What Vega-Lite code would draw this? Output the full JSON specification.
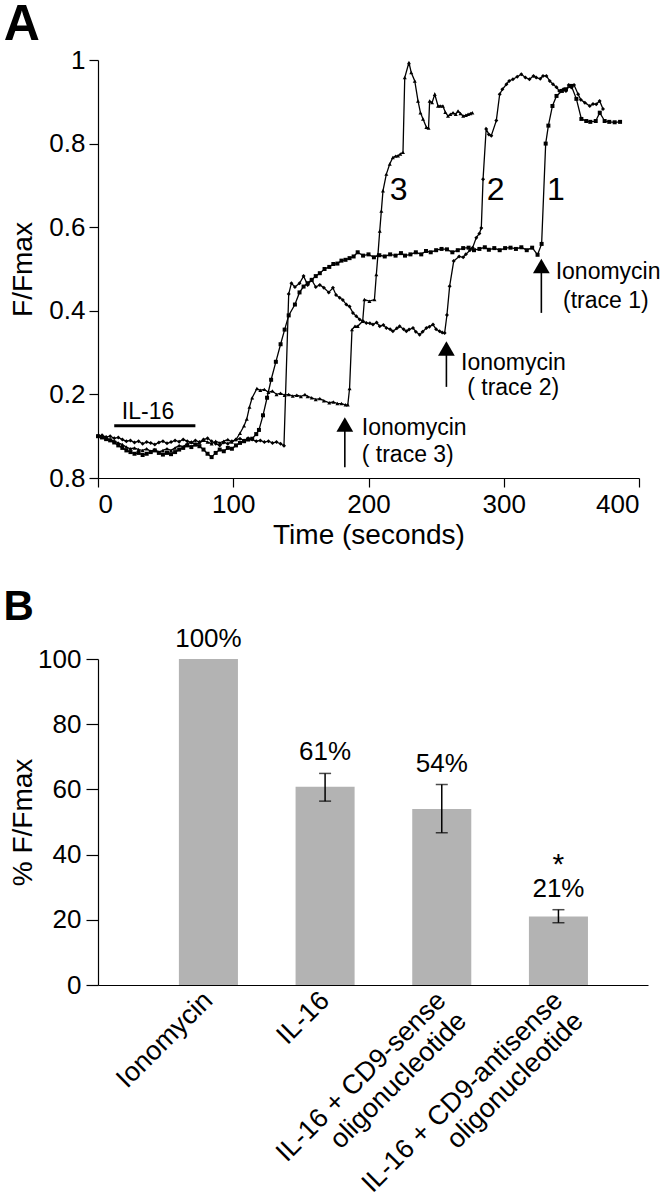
{
 "$schema": "https://vega.github.io/schema/vega-lite/v6.json",
 "padding": {"left": 3, "top": 0, "right": 5, "bottom": 0},
 "background": "white",
 "spacing": 37,
 "config": {
  "font": "Liberation Sans",
  "view": {"stroke": null},
  "axis": {"grid": false, "domainColor": "black", "tickColor": "black", "labelColor": "black", "titleColor": "black", "labelFont": "Liberation Sans", "titleFont": "Liberation Sans", "titleFontWeight": "normal", "labelFontSize": 26, "titleFontSize": 28, "tickSize": 9, "domainWidth": 1.2, "tickWidth": 1.2},
  "title": {"font": "Liberation Sans", "fontWeight": "bold", "color": "black", "anchor": "start", "frame": "bounds"}
 },
 "datasets": {
  "traces": [
   {"s":"1","t":0,"v":0.100},{"s":"1","t":3,"v":0.097},{"s":"1","t":6,"v":0.093},{"s":"1","t":9,"v":0.090},{"s":"1","t":12,"v":0.085},{"s":"1","t":15,"v":0.078},{"s":"1","t":18,"v":0.072},{"s":"1","t":21,"v":0.066},{"s":"1","t":24,"v":0.062},{"s":"1","t":27,"v":0.058},{"s":"1","t":30,"v":0.060},{"s":"1","t":33,"v":0.055},{"s":"1","t":36,"v":0.058},{"s":"1","t":39,"v":0.062},{"s":"1","t":42,"v":0.066},{"s":"1","t":45,"v":0.060},{"s":"1","t":48,"v":0.056},{"s":"1","t":51,"v":0.060},{"s":"1","t":54,"v":0.057},{"s":"1","t":57,"v":0.062},{"s":"1","t":60,"v":0.068},{"s":"1","t":63,"v":0.072},{"s":"1","t":66,"v":0.078},{"s":"1","t":69,"v":0.074},{"s":"1","t":72,"v":0.080},{"s":"1","t":75,"v":0.076},{"s":"1","t":78,"v":0.068},{"s":"1","t":81,"v":0.058},{"s":"1","t":84,"v":0.050},{"s":"1","t":87,"v":0.060},{"s":"1","t":90,"v":0.068},{"s":"1","t":93,"v":0.064},{"s":"1","t":96,"v":0.072},{"s":"1","t":99,"v":0.070},{"s":"1","t":102,"v":0.078},{"s":"1","t":105,"v":0.084},{"s":"1","t":108,"v":0.088},{"s":"1","t":111,"v":0.092},{"s":"1","t":114,"v":0.094},{"s":"1","t":117,"v":0.105},{"s":"1","t":119,"v":0.115},{"s":"1","t":122,"v":0.150},{"s":"1","t":125,"v":0.192},{"s":"1","t":128,"v":0.235},{"s":"1","t":131.5,"v":0.278},{"s":"1","t":135,"v":0.320},{"s":"1","t":138,"v":0.355},{"s":"1","t":141,"v":0.389},{"s":"1","t":145.6,"v":0.415},{"s":"1","t":149,"v":0.444},{"s":"1","t":152,"v":0.458},{"s":"1","t":155,"v":0.466},{"s":"1","t":158,"v":0.474},{"s":"1","t":161,"v":0.483},{"s":"1","t":164,"v":0.490},{"s":"1","t":167.5,"v":0.500},{"s":"1","t":171,"v":0.505},{"s":"1","t":174,"v":0.512},{"s":"1","t":177,"v":0.513},{"s":"1","t":180,"v":0.520},{"s":"1","t":183,"v":0.522},{"s":"1","t":186,"v":0.526},{"s":"1","t":189,"v":0.530},{"s":"1","t":192,"v":0.540},{"s":"1","t":196,"v":0.532},{"s":"1","t":200,"v":0.535},{"s":"1","t":204,"v":0.528},{"s":"1","t":208,"v":0.533},{"s":"1","t":212,"v":0.530},{"s":"1","t":216,"v":0.535},{"s":"1","t":220,"v":0.532},{"s":"1","t":224,"v":0.538},{"s":"1","t":227,"v":0.532},{"s":"1","t":231,"v":0.535},{"s":"1","t":235,"v":0.540},{"s":"1","t":239,"v":0.535},{"s":"1","t":242.5,"v":0.543},{"s":"1","t":246,"v":0.540},{"s":"1","t":250,"v":0.545},{"s":"1","t":254,"v":0.548},{"s":"1","t":258,"v":0.547},{"s":"1","t":262,"v":0.540},{"s":"1","t":266,"v":0.545},{"s":"1","t":270,"v":0.550},{"s":"1","t":274,"v":0.551},{"s":"1","t":278,"v":0.545},{"s":"1","t":282,"v":0.548},{"s":"1","t":286,"v":0.552},{"s":"1","t":289,"v":0.546},{"s":"1","t":293,"v":0.550},{"s":"1","t":297,"v":0.545},{"s":"1","t":301,"v":0.550},{"s":"1","t":305,"v":0.551},{"s":"1","t":309,"v":0.548},{"s":"1","t":313,"v":0.552},{"s":"1","t":317,"v":0.545},{"s":"1","t":321,"v":0.551},{"s":"1","t":325,"v":0.534},{"s":"1","t":328,"v":0.560},{"s":"1","t":331,"v":0.800},{"s":"1","t":333,"v":0.843},{"s":"1","t":336,"v":0.890},{"s":"1","t":339,"v":0.914},{"s":"1","t":343,"v":0.926},{"s":"1","t":346,"v":0.930},{"s":"1","t":350,"v":0.938},{"s":"1","t":353.7,"v":0.907},{"s":"1","t":357.4,"v":0.859},{"s":"1","t":361,"v":0.854},{"s":"1","t":364,"v":0.852},{"s":"1","t":368,"v":0.854},{"s":"1","t":371,"v":0.874},{"s":"1","t":374.6,"v":0.854},{"s":"1","t":378,"v":0.852},{"s":"1","t":382,"v":0.851},{"s":"1","t":386,"v":0.852},
   {"s":"2","t":0,"v":0.100},{"s":"2","t":3,"v":0.102},{"s":"2","t":6,"v":0.098},{"s":"2","t":9,"v":0.100},{"s":"2","t":12,"v":0.095},{"s":"2","t":15,"v":0.097},{"s":"2","t":18,"v":0.092},{"s":"2","t":21,"v":0.088},{"s":"2","t":24,"v":0.090},{"s":"2","t":27,"v":0.085},{"s":"2","t":30,"v":0.088},{"s":"2","t":33,"v":0.082},{"s":"2","t":36,"v":0.086},{"s":"2","t":39,"v":0.084},{"s":"2","t":42,"v":0.080},{"s":"2","t":45,"v":0.085},{"s":"2","t":48,"v":0.088},{"s":"2","t":51,"v":0.083},{"s":"2","t":54,"v":0.086},{"s":"2","t":57,"v":0.090},{"s":"2","t":60,"v":0.087},{"s":"2","t":63,"v":0.092},{"s":"2","t":66,"v":0.088},{"s":"2","t":69,"v":0.085},{"s":"2","t":72,"v":0.090},{"s":"2","t":75,"v":0.086},{"s":"2","t":78,"v":0.092},{"s":"2","t":81,"v":0.095},{"s":"2","t":84,"v":0.088},{"s":"2","t":87,"v":0.082},{"s":"2","t":90,"v":0.078},{"s":"2","t":93,"v":0.085},{"s":"2","t":96,"v":0.082},{"s":"2","t":99,"v":0.088},{"s":"2","t":102,"v":0.092},{"s":"2","t":105,"v":0.094},{"s":"2","t":108,"v":0.090},{"s":"2","t":111,"v":0.095},{"s":"2","t":114,"v":0.092},{"s":"2","t":117,"v":0.088},{"s":"2","t":120,"v":0.090},{"s":"2","t":123,"v":0.086},{"s":"2","t":126,"v":0.088},{"s":"2","t":129,"v":0.084},{"s":"2","t":132,"v":0.086},{"s":"2","t":135,"v":0.082},{"s":"2","t":137.5,"v":0.077},{"s":"2","t":141,"v":0.440},{"s":"2","t":143,"v":0.466},{"s":"2","t":145.6,"v":0.457},{"s":"2","t":149,"v":0.466},{"s":"2","t":152,"v":0.483},{"s":"2","t":155,"v":0.462},{"s":"2","t":158,"v":0.474},{"s":"2","t":161,"v":0.457},{"s":"2","t":164,"v":0.462},{"s":"2","t":167,"v":0.455},{"s":"2","t":170.6,"v":0.444},{"s":"2","t":173.7,"v":0.455},{"s":"2","t":176,"v":0.438},{"s":"2","t":178.7,"v":0.431},{"s":"2","t":181,"v":0.426},{"s":"2","t":183.6,"v":0.415},{"s":"2","t":186,"v":0.410},{"s":"2","t":188.5,"v":0.395},{"s":"2","t":191,"v":0.387},{"s":"2","t":193.5,"v":0.379},{"s":"2","t":196,"v":0.375},{"s":"2","t":198.4,"v":0.371},{"s":"2","t":201,"v":0.370},{"s":"2","t":203.3,"v":0.367},{"s":"2","t":206,"v":0.372},{"s":"2","t":208.3,"v":0.363},{"s":"2","t":211,"v":0.366},{"s":"2","t":213.2,"v":0.359},{"s":"2","t":216,"v":0.356},{"s":"2","t":218,"v":0.351},{"s":"2","t":221,"v":0.358},{"s":"2","t":223,"v":0.363},{"s":"2","t":226,"v":0.356},{"s":"2","t":228,"v":0.351},{"s":"2","t":230,"v":0.355},{"s":"2","t":232.9,"v":0.359},{"s":"2","t":235,"v":0.350},{"s":"2","t":237.8,"v":0.343},{"s":"2","t":240,"v":0.350},{"s":"2","t":242.8,"v":0.359},{"s":"2","t":245,"v":0.362},{"s":"2","t":247.7,"v":0.367},{"s":"2","t":250,"v":0.356},{"s":"2","t":252.6,"v":0.351},{"s":"2","t":254.5,"v":0.348},{"s":"2","t":256.3,"v":0.347},{"s":"2","t":258,"v":0.390},{"s":"2","t":260,"v":0.459},{"s":"2","t":263,"v":0.519},{"s":"2","t":267,"v":0.530},{"s":"2","t":270,"v":0.528},{"s":"2","t":272,"v":0.535},{"s":"2","t":275,"v":0.545},{"s":"2","t":277,"v":0.551},{"s":"2","t":279.7,"v":0.575},{"s":"2","t":282,"v":0.585},{"s":"2","t":283.4,"v":0.598},{"s":"2","t":284.7,"v":0.715},{"s":"2","t":287,"v":0.835},{"s":"2","t":289,"v":0.822},{"s":"2","t":290.8,"v":0.819},{"s":"2","t":294.5,"v":0.855},{"s":"2","t":297,"v":0.918},{"s":"2","t":299,"v":0.930},{"s":"2","t":302,"v":0.942},{"s":"2","t":304,"v":0.950},{"s":"2","t":306.8,"v":0.954},{"s":"2","t":310,"v":0.960},{"s":"2","t":313,"v":0.966},{"s":"2","t":316,"v":0.958},{"s":"2","t":319,"v":0.954},{"s":"2","t":322,"v":0.962},{"s":"2","t":324,"v":0.958},{"s":"2","t":327,"v":0.955},{"s":"2","t":329,"v":0.962},{"s":"2","t":331.5,"v":0.962},{"s":"2","t":334,"v":0.950},{"s":"2","t":336.4,"v":0.942},{"s":"2","t":339,"v":0.935},{"s":"2","t":341,"v":0.926},{"s":"2","t":344,"v":0.930},{"s":"2","t":346,"v":0.926},{"s":"2","t":348,"v":0.940},{"s":"2","t":350,"v":0.934},{"s":"2","t":352,"v":0.940},{"s":"2","t":355,"v":0.918},{"s":"2","t":357,"v":0.905},{"s":"2","t":360,"v":0.898},{"s":"2","t":363.6,"v":0.890},{"s":"2","t":366,"v":0.895},{"s":"2","t":368.4,"v":0.894},{"s":"2","t":370.9,"v":0.902},{"s":"2","t":373.4,"v":0.883},
   {"s":"3","t":0,"v":0.102},{"s":"3","t":3,"v":0.098},{"s":"3","t":6,"v":0.095},{"s":"3","t":9,"v":0.092},{"s":"3","t":12,"v":0.088},{"s":"3","t":15,"v":0.084},{"s":"3","t":18,"v":0.080},{"s":"3","t":21,"v":0.074},{"s":"3","t":24,"v":0.070},{"s":"3","t":27,"v":0.072},{"s":"3","t":30,"v":0.068},{"s":"3","t":33,"v":0.066},{"s":"3","t":36,"v":0.070},{"s":"3","t":39,"v":0.064},{"s":"3","t":42,"v":0.068},{"s":"3","t":45,"v":0.062},{"s":"3","t":48,"v":0.066},{"s":"3","t":51,"v":0.070},{"s":"3","t":54,"v":0.066},{"s":"3","t":57,"v":0.072},{"s":"3","t":60,"v":0.078},{"s":"3","t":63,"v":0.075},{"s":"3","t":66,"v":0.082},{"s":"3","t":69,"v":0.086},{"s":"3","t":72,"v":0.080},{"s":"3","t":75,"v":0.084},{"s":"3","t":78,"v":0.090},{"s":"3","t":81,"v":0.086},{"s":"3","t":84,"v":0.082},{"s":"3","t":87,"v":0.088},{"s":"3","t":90,"v":0.084},{"s":"3","t":93,"v":0.088},{"s":"3","t":96,"v":0.092},{"s":"3","t":99,"v":0.086},{"s":"3","t":102,"v":0.092},{"s":"3","t":105,"v":0.107},{"s":"3","t":108,"v":0.125},{"s":"3","t":110,"v":0.141},{"s":"3","t":112,"v":0.170},{"s":"3","t":114,"v":0.192},{"s":"3","t":117.5,"v":0.214},{"s":"3","t":120,"v":0.210},{"s":"3","t":123,"v":0.212},{"s":"3","t":126,"v":0.205},{"s":"3","t":129,"v":0.208},{"s":"3","t":132,"v":0.200},{"s":"3","t":135,"v":0.203},{"s":"3","t":138,"v":0.198},{"s":"3","t":141,"v":0.200},{"s":"3","t":144,"v":0.196},{"s":"3","t":147,"v":0.198},{"s":"3","t":150,"v":0.195},{"s":"3","t":153,"v":0.200},{"s":"3","t":155,"v":0.195},{"s":"3","t":158,"v":0.192},{"s":"3","t":161,"v":0.188},{"s":"3","t":164,"v":0.190},{"s":"3","t":167,"v":0.185},{"s":"3","t":171,"v":0.180},{"s":"3","t":174,"v":0.182},{"s":"3","t":177,"v":0.178},{"s":"3","t":180,"v":0.178},{"s":"3","t":183,"v":0.175},{"s":"3","t":184.7,"v":0.175},{"s":"3","t":186,"v":0.214},{"s":"3","t":187.8,"v":0.355},{"s":"3","t":190,"v":0.363},{"s":"3","t":192,"v":0.363},{"s":"3","t":195.7,"v":0.375},{"s":"3","t":197,"v":0.427},{"s":"3","t":200.7,"v":0.423},{"s":"3","t":204.4,"v":0.427},{"s":"3","t":205.8,"v":0.487},{"s":"3","t":207,"v":0.535},{"s":"3","t":208.3,"v":0.591},{"s":"3","t":209.5,"v":0.639},{"s":"3","t":210.7,"v":0.687},{"s":"3","t":213.2,"v":0.727},{"s":"3","t":215.7,"v":0.751},{"s":"3","t":218,"v":0.767},{"s":"3","t":220,"v":0.770},{"s":"3","t":221.8,"v":0.771},{"s":"3","t":223.5,"v":0.775},{"s":"3","t":225.5,"v":0.779},{"s":"3","t":226.8,"v":0.958},{"s":"3","t":229.9,"v":0.994},{"s":"3","t":231.6,"v":0.970},{"s":"3","t":234.2,"v":0.950},{"s":"3","t":236.6,"v":0.902},{"s":"3","t":238.4,"v":0.874},{"s":"3","t":240.3,"v":0.859},{"s":"3","t":242.8,"v":0.839},{"s":"3","t":244.4,"v":0.837},{"s":"3","t":245.2,"v":0.902},{"s":"3","t":247,"v":0.898},{"s":"3","t":249,"v":0.918},{"s":"3","t":251.4,"v":0.890},{"s":"3","t":253,"v":0.890},{"s":"3","t":255,"v":0.890},{"s":"3","t":256.8,"v":0.875},{"s":"3","t":258.8,"v":0.866},{"s":"3","t":260.5,"v":0.870},{"s":"3","t":262.5,"v":0.874},{"s":"3","t":264.5,"v":0.870},{"s":"3","t":266.2,"v":0.878},{"s":"3","t":268,"v":0.872},{"s":"3","t":270,"v":0.866},{"s":"3","t":272,"v":0.868},{"s":"3","t":273.6,"v":0.870},{"s":"3","t":275.3,"v":0.872},{"s":"3","t":276.8,"v":0.874}
  ],
  "arrows": [
   {"trace": "1", "t": 327.8, "y0": 0.395, "y1": 0.507},
   {"trace": "2", "t": 257.6, "y0": 0.218, "y1": 0.31},
   {"trace": "3", "t": 182.5, "y0": 0.026, "y1": 0.128}
  ],
  "notes": [
   {"t": 338.4, "v": 0.492, "txt": "Ionomycin"},
   {"t": 343.8, "v": 0.423, "txt": "(trace 1)"},
   {"t": 268.4, "v": 0.275, "txt": "Ionomycin"},
   {"t": 273, "v": 0.215, "txt": "( trace 2)"},
   {"t": 195, "v": 0.12, "txt": "Ionomycin"},
   {"t": 195, "v": 0.056, "txt": "( trace 3)"}
  ],
  "numbers": [
   {"t": 222.2, "v": 0.688, "txt": "3"},
   {"t": 294, "v": 0.688, "txt": "2"},
   {"t": 338.5, "v": 0.688, "txt": "1"}
  ],
  "il16": [
   {"t": 12, "t2": 72, "v": 0.125, "tc": 37, "vt": 0.158, "txt": "IL-16"}
  ],
  "bars": [
   {"cat": "Ionomycin", "value": 100, "lo": null, "hi": null, "label": "100%", "star": null},
   {"cat": "IL-16", "value": 60.8, "lo": 56.4, "hi": 64.9, "label": "61%", "star": null},
   {"cat": "IL-16 + CD9-sense|oligonucleotide", "value": 54, "lo": 46.7, "hi": 61.5, "label": "54%", "star": null},
   {"cat": "IL-16 + CD9-antisense|oligonucleotide", "value": 21, "lo": 19.1, "hi": 23.1, "label": "21%", "star": "*"}
  ]
 },
 "vconcat": [
  {
   "width": 541,
   "height": 418,
   "title": {"text": "A", "fontSize": 50, "dx": -6, "offset": -3},
   "layer": [
    {
     "data": {"name": "traces"},
     "mark": {"type": "line", "color": "black", "strokeWidth": 1.3},
     "encoding": {
      "x": {"field": "t", "type": "quantitative", "scale": {"domain": [0, 400], "nice": false}, "axis": {"title": "Time (seconds)", "values": [0, 100, 200, 300, 400], "labelPadding": 4, "titlePadding": 4}},
      "y": {"field": "v", "type": "quantitative", "scale": {"domain": [0, 1], "nice": false}, "axis": {"title": "F/Fmax", "values": [0, 0.2, 0.4, 0.6, 0.8, 1], "format": "~g", "labelExpr": "datum.value == 0 ? '0.8' : datum.label", "labelPadding": 4, "titlePadding": 11}},
      "detail": {"field": "s", "type": "nominal"}
     }
    },
    {
     "data": {"name": "traces"},
     "mark": {"type": "point", "filled": true, "color": "black", "size": 16, "opacity": 1},
     "encoding": {
      "x": {"field": "t", "type": "quantitative"},
      "y": {"field": "v", "type": "quantitative"},
      "shape": {"field": "s", "type": "nominal", "scale": {"domain": ["1", "2", "3"], "range": ["square", "diamond", "triangle-up"]}, "legend": null}
     }
    },
    {
     "data": {"name": "il16"},
     "mark": {"type": "rule", "color": "black", "strokeWidth": 3},
     "encoding": {"x": {"field": "t", "type": "quantitative"}, "x2": {"field": "t2"}, "y": {"field": "v", "type": "quantitative"}}
    },
    {
     "data": {"name": "il16"},
     "mark": {"type": "text", "fontSize": 23, "align": "center", "baseline": "middle", "color": "black"},
     "encoding": {"x": {"field": "tc", "type": "quantitative"}, "y": {"field": "vt", "type": "quantitative"}, "text": {"field": "txt"}}
    },
    {
     "data": {"name": "arrows"},
     "mark": {"type": "rule", "color": "black", "strokeWidth": 1.6},
     "encoding": {"x": {"field": "t", "type": "quantitative"}, "y": {"field": "y0", "type": "quantitative"}, "y2": {"field": "y1"}}
    },
    {
     "data": {"name": "arrows"},
     "mark": {"type": "point", "shape": "triangle-up", "filled": true, "color": "black", "size": 280, "opacity": 1},
     "encoding": {"x": {"field": "t", "type": "quantitative"}, "y": {"field": "y1", "type": "quantitative"}}
    },
    {
     "data": {"name": "notes"},
     "mark": {"type": "text", "fontSize": 23, "align": "left", "baseline": "middle", "color": "black"},
     "encoding": {"x": {"field": "t", "type": "quantitative"}, "y": {"field": "v", "type": "quantitative"}, "text": {"field": "txt"}}
    },
    {
     "data": {"name": "numbers"},
     "mark": {"type": "text", "fontSize": 32, "align": "center", "baseline": "middle", "color": "black"},
     "encoding": {"x": {"field": "t", "type": "quantitative"}, "y": {"field": "v", "type": "quantitative"}, "text": {"field": "txt"}}
    }
   ]
  },
  {
   "width": 550,
   "height": 326,
   "title": {"text": "B", "fontSize": 42, "dx": -6, "offset": -3},
   "data": {"name": "bars"},
   "encoding": {
    "x": {"field": "cat", "type": "nominal", "sort": null, "scale": {"paddingInner": 0.494, "paddingOuter": 0.604, "align": 0.574},
     "axis": {"title": null, "labelAngle": -45, "labelAlign": "right", "labelBaseline": "middle", "ticks": false, "labelExpr": "split(datum.label, '|')", "labelLimit": 400, "labelLineHeight": 29, "labelPadding": 11, "labelOverlap": false, "labelFontSize": 27}}
   },
   "layer": [
    {
     "mark": {"type": "bar", "color": "#b3b3b3"},
     "encoding": {"y": {"field": "value", "type": "quantitative", "scale": {"domain": [0, 100], "nice": false}, "axis": {"title": "% F/Fmax", "values": [0, 20, 40, 60, 80, 100], "tickSize": 12, "labelPadding": 5, "titlePadding": 0}}}
    },
    {
     "mark": {"type": "rule", "color": "black", "strokeWidth": 1.5},
     "encoding": {"y": {"field": "lo", "type": "quantitative"}, "y2": {"field": "hi"}}
    },
    {
     "mark": {"type": "tick", "color": "black", "size": 12, "thickness": 1.5},
     "encoding": {"y": {"field": "lo", "type": "quantitative"}}
    },
    {
     "mark": {"type": "tick", "color": "black", "size": 12, "thickness": 1.5},
     "encoding": {"y": {"field": "hi", "type": "quantitative"}}
    },
    {
     "transform": [{"filter": "datum.hi != null"}],
     "mark": {"type": "text", "fontSize": 26, "baseline": "middle", "dy": -21, "color": "black"},
     "encoding": {"y": {"field": "hi", "type": "quantitative"}, "text": {"field": "label"}}
    },
    {
     "transform": [{"filter": "datum.hi == null"}],
     "mark": {"type": "text", "fontSize": 26, "baseline": "middle", "dy": -20, "color": "black"},
     "encoding": {"y": {"field": "value", "type": "quantitative"}, "text": {"field": "label"}}
    },
    {
     "transform": [{"filter": "datum.star != null"}],
     "mark": {"type": "text", "fontSize": 30, "baseline": "middle", "dy": -45, "color": "black"},
     "encoding": {"y": {"field": "hi", "type": "quantitative"}, "text": {"field": "star"}}
    }
   ]
  }
 ]
}
